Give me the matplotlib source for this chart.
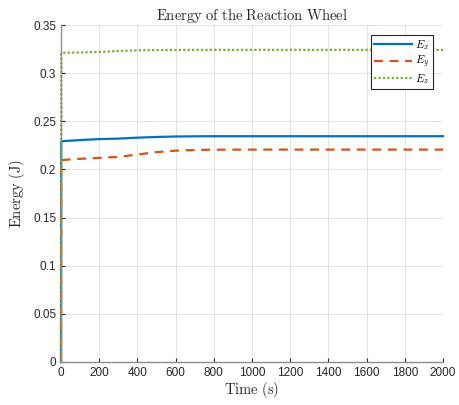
import numpy as np
import matplotlib.pyplot as plt

plt.rcParams['font.family'] = 'Liberation Sans'
plt.rcParams['mathtext.fontset'] = 'cm'

t = [0, 1, 20, 100, 200, 300, 400, 500, 600, 700, 800, 1000, 1200, 1400, 1600, 1800, 2000]
E_x = [0, 0.2290, 0.2295, 0.2305, 0.2315, 0.2320, 0.2330, 0.2337, 0.2342, 0.2344, 0.2345, 0.2345, 0.2345, 0.2345, 0.2345, 0.2345, 0.2345]
E_y = [0, 0.2095, 0.2100, 0.2110, 0.2120, 0.2130, 0.2155, 0.2180, 0.2195, 0.2202, 0.2205, 0.2206, 0.2206, 0.2206, 0.2206, 0.2206, 0.2206]
E_z = [0, 0.3210, 0.3212, 0.3215, 0.3220, 0.3230, 0.3237, 0.3240, 0.3241, 0.3242, 0.3242, 0.3242, 0.3242, 0.3242, 0.3242, 0.3242, 0.3242]

fig = plt.figure(figsize=(4.59, 4.05), dpi=100)
ax = fig.add_axes([61/459, 43/405, 382/459, 337/405])

ax.plot(t, E_x, color='#0072BD', lw=1.6, label='$E_x$', clip_on=False)
ax.plot(t, E_y, color='#D95319', lw=1.6, ls=(0, (4, 3)), label='$E_y$', clip_on=False)
ax.plot(t, E_z, color='#77AC30', lw=1.6, ls=(0, (1, 1)), label='$E_z$', clip_on=False)

ax.set_xlim(0, 2000)
ax.set_ylim(0, 0.35)
ax.set_xticks(np.arange(0, 2001, 200))
ax.set_yticks(np.arange(0, 0.351, 0.05))
ax.set_yticklabels(['0', '0.05', '0.1', '0.15', '0.2', '0.25', '0.3', '0.35'])
ax.tick_params(labelsize=8.5, direction='in', length=3, width=0.8, color='#262626', labelcolor='#262626')
ax.grid(True, color='#dedede', lw=0.6)
for s in ['top', 'right']:
    ax.spines[s].set_visible(False)
for s in ['left', 'bottom']:
    ax.spines[s].set_color('#8c8c8c')
    ax.spines[s].set_linewidth(1.0)

ax.set_title(r'$\mathrm{Energy\ of\ the\ Reaction\ Wheel}$', fontsize=10.5, pad=3, color='#262626')
ax.set_xlabel(r'$\mathrm{Time\ (s)}$', fontsize=10.5, labelpad=1, color='#262626')
ax.set_ylabel(r'$\mathrm{Energy\ (J)}$', fontsize=10.5, labelpad=4, color='#262626')

leg = ax.legend(loc='upper right', fontsize=8, fancybox=False, framealpha=1,
                edgecolor='#262626', borderpad=0.3, handlelength=3.4, labelspacing=0.15,
                handletextpad=0.3, borderaxespad=0.9)
leg.get_frame().set_linewidth(0.8)

fig.savefig('out.png', dpi=100)
